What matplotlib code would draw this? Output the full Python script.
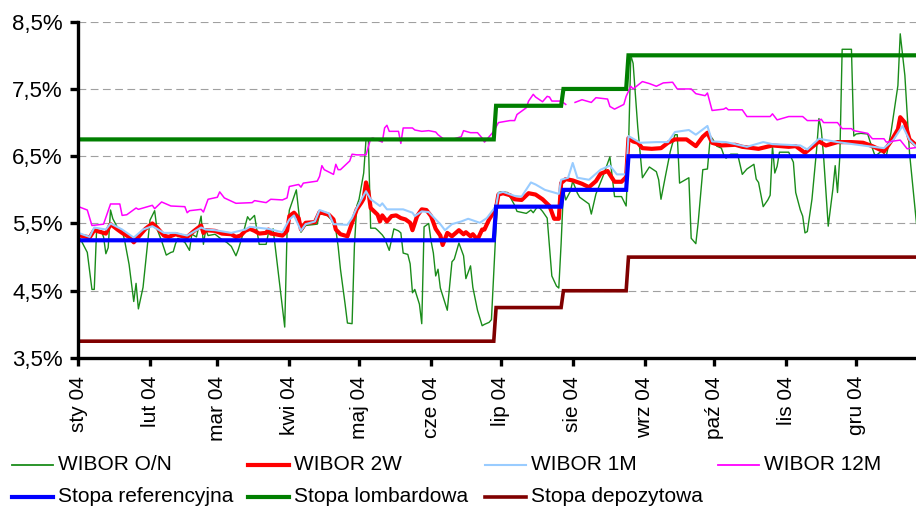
import matplotlib
matplotlib.use("Agg")
import matplotlib.pyplot as plt
from matplotlib.lines import Line2D
import pandas as pd
import numpy as np

plt.rcParams["font.family"] = ["Liberation Sans", "DejaVu Sans"]

YEAR = "2004-"

# ---- WIBOR O/N ----
on_dates = [
    "01-02", "01-05", "01-06", "01-07", "01-08", "01-09", "01-11", "01-12", "01-13", "01-14",
    "01-15", "01-16", "01-18", "01-20", "01-21", "01-23", "01-25", "01-26", "01-27", "01-29",
    "02-01", "02-03", "02-04", "02-06", "02-08", "02-10", "02-11", "02-12", "02-13", "02-16",
    "02-18", "02-19", "02-21", "02-23", "02-24", "02-25", "02-26", "02-29", "03-03", "03-05",
    "03-07", "03-09", "03-10", "03-12", "03-14", "03-15", "03-17", "03-19", "03-22", "03-23",
    "03-24", "03-25", "03-30", "03-31", "04-01", "04-04", "04-06", "04-08", "04-13", "04-14",
    "04-17", "04-19", "04-21", "04-22", "04-23", "04-25", "04-26", "04-28", "04-29", "04-30",
    "05-01", "05-03", "05-04", "05-05", "05-06", "05-08", "05-09", "05-11", "05-12", "05-14",
    "05-16", "05-18", "05-19", "05-20", "05-22", "05-23", "05-24", "05-25", "05-27", "05-28",
    "05-29", "05-31", "06-01", "06-02", "06-03", "06-04", "06-05", "06-08", "06-10", "06-11",
    "06-13", "06-15", "06-16", "06-18", "06-19", "06-21", "06-23", "06-24", "06-26", "06-27",
    "06-29", "06-30", "07-01", "07-04", "07-07", "07-08", "07-12", "07-14", "07-15", "07-17",
    "07-19", "07-21", "07-22", "07-23", "07-25", "07-26", "07-27", "07-28", "07-29", "07-31",
    "08-01", "08-03", "08-04", "08-08", "08-09", "08-11", "08-14", "08-17", "08-19", "08-22",
    "08-24", "08-25", "08-26", "08-27", "08-29", "08-30", "08-31", "09-03", "09-06", "09-07",
    "09-08", "09-10", "09-12", "09-14", "09-15", "09-16", "09-20", "09-21", "09-23", "09-24",
    "09-26", "09-28", "09-29", "09-30", "10-02", "10-04", "10-05", "10-06", "10-08", "10-11",
    "10-13", "10-15", "10-18", "10-19", "10-20", "10-22", "10-24", "10-25", "10-26", "10-27",
    "10-28", "10-29", "11-02", "11-04", "11-05", "11-07", "11-08", "11-09", "11-10", "11-12",
    "11-14", "11-15", "11-16", "11-17", "11-19", "11-21", "11-22", "11-23", "11-24", "11-25",
    "11-29", "11-30", "12-01", "12-03", "12-06", "12-07", "12-09", "12-10", "12-12", "12-14",
    "12-16", "12-19", "12-20", "12-22", "12-24", "12-27",
]
on_values = [
    5.27, 5.07, 4.79, 4.52, 4.52, 5.40, 5.39, 5.30, 5.05, 5.14,
    5.70, 5.57, 5.44, 5.39, 5.26, 4.89, 4.34, 4.61, 4.23, 4.55,
    5.55, 5.69, 5.42, 5.24, 5.03, 5.07, 5.08, 5.20, 5.28, 5.22,
    5.10, 5.34, 5.30, 5.61, 5.19, 5.41, 5.32, 5.34, 5.26, 5.22,
    5.16, 5.02, 5.11, 5.34, 5.60, 5.55, 5.62, 5.19, 5.19, 5.36,
    5.36, 5.42, 3.96, 5.36, 5.70, 6.00, 5.37, 5.47, 5.49, 5.64,
    5.63, 5.56, 5.41, 5.16, 4.82, 4.30, 4.02, 4.01, 5.16, 5.76,
    5.86, 6.25, 6.75, 6.75, 5.43, 5.43, 5.40, 5.33, 5.28, 5.10,
    5.42, 5.39, 5.36, 5.06, 5.04, 4.90, 4.47, 4.52, 4.30, 4.01,
    5.45, 5.50, 5.24, 5.06, 4.72, 4.82, 4.54, 4.21, 4.93, 4.97,
    5.21, 5.02, 4.68, 4.87, 4.55, 4.21, 3.98, 4.00, 4.03, 4.07,
    5.46, 5.96, 5.97, 5.96, 5.77, 5.68, 5.65, 5.70, 5.66, 5.76,
    5.68, 5.58, 5.16, 4.72, 4.57, 4.54, 5.20, 6.00, 5.85, 5.98,
    6.13, 5.95, 5.89, 5.79, 5.64, 5.94, 6.20, 6.49, 5.90, 5.90,
    5.76, 6.60, 8.00, 7.88, 6.93, 6.55, 6.18, 6.34, 6.27, 6.15,
    5.86, 6.22, 6.57, 6.82, 6.82, 6.10, 6.18, 5.28, 5.20, 5.51,
    6.30, 6.31, 6.70, 6.77, 6.65, 6.62, 6.52, 6.47, 6.53, 6.53,
    6.23, 6.31, 6.38, 6.16, 6.11, 5.75, 5.85, 5.92, 6.65, 6.25,
    6.35, 6.56, 6.56, 6.41, 5.96, 5.70, 5.61, 5.36, 5.38, 5.86,
    6.60, 7.06, 6.90, 6.50, 5.46, 6.01, 6.36, 5.96, 6.50, 8.09,
    8.09, 6.80, 6.83, 6.84, 6.83, 6.72, 6.52, 6.52, 6.58, 6.50,
    6.85, 7.55, 8.32, 7.70, 6.55, 5.50,
]

# ---- WIBOR 2W ----
w2_dates = [
    "01-02", "01-05", "01-06", "01-08", "01-11", "01-13", "01-15", "01-18", "01-20", "01-23",
    "01-25", "01-27", "01-30", "02-02", "02-04", "02-07", "02-09", "02-12", "02-15", "02-17",
    "02-20", "02-23", "02-24", "02-25", "02-29", "03-03", "03-07", "03-09", "03-11", "03-13",
    "03-15", "03-17", "03-19", "03-22", "03-23", "03-24", "03-26", "03-29", "03-31", "04-01",
    "04-03", "04-05", "04-06", "04-08", "04-12", "04-14", "04-16", "04-18", "04-20", "04-21",
    "04-23", "04-26", "04-28", "04-30", "05-02", "05-03", "05-04", "05-05", "05-06", "05-09",
    "05-10", "05-11", "05-13", "05-15", "05-17", "05-19", "05-21", "05-23", "05-24", "05-26",
    "05-28", "05-30", "06-01", "06-03", "06-05", "06-06", "06-08", "06-10", "06-13", "06-15",
    "06-16", "06-18", "06-19", "06-21", "06-23", "06-24", "06-26", "06-29", "06-30", "07-02",
    "07-05", "07-07", "07-10", "07-13", "07-16", "07-19", "07-22", "07-24", "07-26", "07-27",
    "07-29", "08-01", "08-05", "08-08", "08-11", "08-13", "08-16", "08-19", "08-22", "08-24",
    "08-25", "08-27", "08-29", "08-31", "09-04", "09-08", "09-11", "09-14", "09-19", "09-23",
    "09-26", "09-28", "09-30", "10-04", "10-10", "10-13", "10-20", "10-26", "11-02", "11-05",
    "11-09", "11-15", "11-18", "11-23", "11-29", "12-04", "12-08", "12-13", "12-16", "12-19",
    "12-20", "12-22", "12-24", "12-27",
]
w2_values = [
    5.32, 5.30, 5.29, 5.40, 5.37, 5.35, 5.49, 5.41, 5.36, 5.30,
    5.22, 5.30, 5.42, 5.50, 5.44, 5.32, 5.30, 5.34, 5.31, 5.30,
    5.39, 5.47, 5.36, 5.40, 5.39, 5.35, 5.34, 5.30, 5.32, 5.39,
    5.42, 5.39, 5.35, 5.36, 5.41, 5.35, 5.34, 5.32, 5.39, 5.61,
    5.66, 5.58, 5.41, 5.51, 5.52, 5.67, 5.65, 5.63, 5.56, 5.41,
    5.34, 5.31, 5.51, 5.71, 5.81, 5.87, 6.11, 5.98, 5.73, 5.63,
    5.53, 5.62, 5.53, 5.61, 5.62, 5.58, 5.56, 5.51, 5.40, 5.61,
    5.71, 5.70, 5.61, 5.42, 5.32, 5.18, 5.36, 5.31, 5.40, 5.34,
    5.37, 5.31, 5.34, 5.26, 5.41, 5.41, 5.56, 5.73, 5.93, 5.95,
    5.92, 5.86, 5.85, 5.95, 5.93, 5.86, 5.76, 5.57, 5.57, 6.10,
    6.16, 6.14, 6.09, 6.04, 6.13, 6.24, 6.28, 6.12, 6.12, 6.19,
    6.77, 6.72, 6.70, 6.62, 6.61, 6.62, 6.70, 6.75, 6.75, 6.65,
    6.79, 6.85, 6.70, 6.66, 6.67, 6.64, 6.61, 6.66, 6.64, 6.65,
    6.55, 6.72, 6.66, 6.71, 6.71, 6.70, 6.65, 6.57, 6.72, 6.90,
    7.08, 7.00, 6.75, 6.66,
]

# ---- WIBOR 1M ----
m1_dates = [
    "01-02", "01-06", "01-08", "01-13", "01-15", "01-20", "01-25", "01-29", "02-02", "02-07",
    "02-12", "02-17", "02-23", "02-25", "02-29", "03-07", "03-13", "03-15", "03-23", "03-29",
    "04-01", "04-03", "04-06", "04-08", "04-12", "04-14", "04-18", "04-20", "04-26", "04-28",
    "04-30", "05-04", "05-06", "05-10", "05-11", "05-13", "05-20", "05-24", "05-25", "05-28",
    "05-31", "06-03", "06-05", "06-07", "06-10", "06-14", "06-17", "06-22", "06-25", "06-29",
    "06-30", "07-02", "07-07", "07-10", "07-14", "07-16", "07-20", "07-24", "07-26", "07-27",
    "07-30", "08-01", "08-03", "08-08", "08-13", "08-17", "08-20", "08-24", "08-25", "08-30",
    "09-06", "09-11", "09-14", "09-20", "09-23", "09-28", "09-30", "10-06", "10-15", "10-22",
    "10-26", "11-07", "11-10", "11-15", "11-23", "12-06", "12-13", "12-17", "12-21", "12-24",
    "12-27",
]
m1_values = [
    5.35, 5.30, 5.44, 5.41, 5.50, 5.41, 5.29, 5.41, 5.46, 5.36,
    5.36, 5.32, 5.44, 5.41, 5.40, 5.36, 5.41, 5.45, 5.42, 5.37,
    5.56, 5.62, 5.39, 5.49, 5.53, 5.70, 5.65, 5.49, 5.48, 5.58,
    5.73, 5.98, 5.86, 5.76, 5.80, 5.71, 5.71, 5.66, 5.61, 5.68,
    5.67, 5.56, 5.49, 5.40, 5.49, 5.53, 5.57, 5.51, 5.58, 5.76,
    5.95, 5.97, 5.91, 5.90, 6.11, 6.08, 6.00, 5.96, 5.94, 6.15,
    6.18, 6.40, 6.18, 6.15, 6.30, 6.36, 6.23, 6.23, 6.80, 6.70,
    6.71, 6.71, 6.86, 6.89, 6.82, 6.95, 6.72, 6.71, 6.64, 6.71,
    6.68, 6.66, 6.60, 6.76, 6.71, 6.65, 6.62, 6.74, 6.95, 6.74,
    6.64,
]

# ---- WIBOR 12M (no fixing published on 30 July) ----
m12_dates = [
    "01-02", "01-05", "01-07", "01-12", "01-15", "01-19", "01-20", "01-22", "01-26", "01-27",
    "02-02", "02-03", "02-06", "02-10", "02-16", "02-17", "02-18", "02-23", "02-24", "02-26",
    "03-01", "03-02", "03-04", "03-09", "03-16", "03-17", "03-22", "03-24", "03-29", "03-31",
    "04-01", "04-05", "04-06", "04-07", "04-13", "04-14", "04-15", "04-16", "04-20", "04-21",
    "04-22", "04-23", "04-27", "04-28", "04-30", "05-04", "05-06", "05-07", "05-11", "05-12",
    "05-13", "05-14", "05-18", "05-19", "05-20", "05-24", "05-25", "05-28", "05-31", "06-03",
    "06-04", "06-07", "06-10", "06-14", "06-15", "06-18", "06-21", "06-23", "06-24", "06-28",
    "06-30", "07-05", "07-07", "07-08", "07-12", "07-13", "07-15", "07-16", "07-19", "07-21",
    "07-22", "07-23", "07-26", "07-27", "07-29", "07-30", "08-02", "08-05", "08-09", "08-11",
    "08-16", "08-17", "08-19", "08-23", "08-24", "08-26", "08-27", "08-31", "09-03", "09-06",
    "09-09", "09-13", "09-15", "09-21", "09-23", "09-27", "09-28", "09-30", "10-05", "10-06",
    "10-07", "10-13", "10-15", "10-25", "10-26", "10-28", "11-02", "11-08", "11-10", "11-15",
    "11-16", "11-17", "11-23", "11-25", "11-29", "11-30", "12-06", "12-08", "12-13", "12-14",
    "12-20", "12-23", "12-27",
]
m12_values = [
    5.74, 5.70, 5.47, 5.49, 5.79, 5.79, 5.62, 5.63, 5.73, 5.71,
    5.77, 5.72, 5.82, 5.76, 5.75, 5.66, 5.69, 5.71, 5.67, 5.86,
    5.89, 5.97, 5.88, 5.80, 5.81, 5.84, 5.81, 5.86, 5.85, 5.88,
    6.05, 6.08, 6.04, 6.10, 6.13, 6.20, 6.36, 6.30, 6.23, 6.38,
    6.30, 6.30, 6.43, 6.53, 6.52, 6.52, 6.76, 6.77, 6.71, 6.92,
    6.96, 6.87, 6.87, 6.69, 6.92, 6.92, 6.89, 6.87, 6.88, 6.86,
    6.82, 6.74, 6.75, 6.79, 6.88, 6.85, 6.85, 6.77, 6.71, 6.87,
    7.00, 7.03, 7.03, 7.12, 7.22, 7.32, 7.42, 7.38, 7.31, 7.39,
    7.38, 7.32, 7.32, 7.32, 7.27, np.nan, 7.30, 7.34, 7.30, 7.37,
    7.35, 7.24, 7.20, 7.27, 7.39, 7.54, 7.50, 7.61, 7.58, 7.54,
    7.59, 7.60, 7.50, 7.50, 7.43, 7.40, 7.44, 7.18, 7.20, 7.22,
    7.19, 7.19, 7.09, 7.09, 7.13, 7.04, 7.09, 7.09, 7.03, 7.03,
    7.05, 7.00, 7.00, 6.91, 6.91, 6.88, 6.84, 6.76, 6.76, 6.71,
    6.74, 6.61, 6.63,
]

# ---- NBP policy rates: decision dates and levels ----
rate_change_dates = ["01-01", "06-29", "07-28", "08-25"]
period_end = "12-31"
ref_rates = [5.25, 5.75, 6.00, 6.50]
lombard_rates = [6.75, 7.25, 7.50, 8.00]
deposit_rates = [3.75, 4.25, 4.50, 5.00]

month_labels = ["sty 04", "lut 04", "mar 04", "kwi 04", "maj 04", "cze 04",
                "lip 04", "sie 04", "wrz 04", "paź 04", "lis 04", "gru 04"]
y_ticks = [3.5, 4.5, 5.5, 6.5, 7.5, 8.5]


def to_dates(days):
    return pd.to_datetime([YEAR + s for s in days])


def policy_line(levels):
    """Rate held flat between decisions, moving to the new level on the decision day."""
    xs = [pd.Timestamp(YEAR + rate_change_dates[0])]
    ys = [levels[0]]
    for day, old, new in zip(rate_change_dates[1:], levels[:-1], levels[1:]):
        t = pd.Timestamp(YEAR + day)
        xs += [t - pd.Timedelta(days=1), t]
        ys += [old, new]
    xs.append(pd.Timestamp(YEAR + period_end))
    ys.append(levels[-1])
    return xs, ys


W, H = 916, 507
fig = plt.figure(figsize=(W / 100, H / 100), dpi=100)
ax = fig.add_axes([78 / W, 1 - 358 / H, 1 - 78 / W, (358 - 21.7) / H])

series = [
    ("WIBOR O/N", to_dates(on_dates), on_values, "#1a8c1a", 1.0),
    ("WIBOR 2W", to_dates(w2_dates), w2_values, "#ff0000", 3.0),
    ("WIBOR 1M", to_dates(m1_dates), m1_values, "#99ccff", 1.5),
    ("WIBOR 12M", to_dates(m12_dates), m12_values, "#ff00ff", 1.1),
]
policy = [
    ("Stopa referencyjna", ref_rates, "#0000ff", 3.0),
    ("Stopa lombardowa", lombard_rates, "#007f00", 3.0),
    ("Stopa depozytowa", deposit_rates, "#800000", 2.6),
]

for label, x, y, color, lw in series:
    ax.plot(x, y, color=color, lw=lw, solid_joinstyle="round")
for label, levels, color, lw in policy:
    px, py = policy_line(levels)
    ax.plot(px, py, color=color, lw=lw, solid_joinstyle="miter")

ax.set_ylim(3.5, 8.5)
ax.set_xlim(pd.Timestamp("2004-01-01"), pd.Timestamp("2004-12-26 19:00"))

ax.set_yticks(y_ticks)
ax.set_yticklabels([f"{v:.1f}%".replace(".", ",") for v in y_ticks])
month_starts = pd.date_range("2004-01-01", periods=12, freq="MS")
ax.set_xticks(month_starts)
ax.set_xticklabels(month_labels, rotation=90, va="top", ha="center")

ax.yaxis.grid(True, linestyle=(0, (7, 4)), linewidth=0.8, color="#a0a0a0")
ax.set_axisbelow(True)

for side in ("top", "right"):
    ax.spines[side].set_visible(False)
for side in ("left", "bottom"):
    ax.spines[side].set_linewidth(2.4)
    ax.spines[side].set_color("black")

ax.tick_params(axis="both", direction="out", length=6, width=2.4,
               labelsize=15, colors="black")
ax.tick_params(axis="y", pad=5, labelsize=16)
ax.tick_params(axis="x", pad=7)

# legend laid out in two rows under the axis labels
legend_items = [
    (series[0][0], series[0][3], series[0][4], 12, 465),
    (series[1][0], series[1][3], series[1][4], 248, 465),
    (series[2][0], series[2][3], series[2][4], 485, 465),
    (series[3][0], series[3][3], series[3][4], 718, 465),
    (policy[0][0], policy[0][2], policy[0][3], 12, 497),
    (policy[1][0], policy[1][2], policy[1][3], 248, 497),
    (policy[2][0], policy[2][2], policy[2][3], 485, 497),
]
for label, color, lw, x0, y0 in legend_items:
    fig.add_artist(Line2D([x0 / W, (x0 + 41) / W], [1 - y0 / H, 1 - y0 / H],
                          color=color, lw=max(lw, 1.3), transform=fig.transFigure))
    fig.text((x0 + 46) / W, 1 - y0 / H, label, fontsize=15, va="center", ha="left")

fig.savefig("out.png", dpi=100)
